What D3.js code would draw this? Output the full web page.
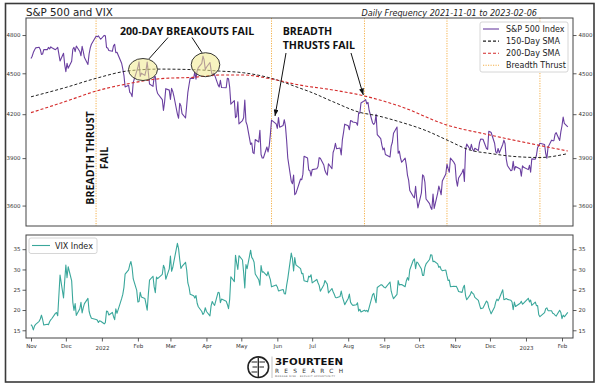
<!DOCTYPE html>
<html><head><meta charset="utf-8">
<script src="https://cdn.jsdelivr.net/npm/d3@7"></script>
<style>body{margin:0;background:#fff}svg{display:block}</style>
</head><body>
<svg id="c" width="600" height="391"></svg>
<script>
// ---------------- DATA ----------------
const months = ["2021-11","2021-12","2022-01","2022-02","2022-03","2022-04","2022-05","2022-06","2022-07","2022-08","2022-09","2022-10","2022-11","2022-12","2023-01","2023-02"];
const days = [
 [1,2,3,4,5,8,9,10,11,12,15,16,17,18,19,22,23,24,26,29,30],
 [1,2,3,6,7,8,9,10,13,14,15,16,17,20,21,22,23,27,28,29,30,31],
 [3,4,5,6,7,10,11,12,13,14,18,19,20,21,24,25,26,27,28,31],
 [1,2,3,4,7,8,9,10,11,14,15,16,17,18,22,23,24,25,28],
 [1,2,3,4,7,8,9,10,11,14,15,16,17,18,21,22,23,24,25,28,29,30,31],
 [1,4,5,6,7,8,11,12,13,14,18,19,20,21,22,25,26,27,28,29],
 [2,3,4,5,6,9,10,11,12,13,16,17,18,19,20,23,24,25,26,27,31],
 [1,2,3,6,7,8,9,10,13,14,15,16,17,21,22,23,24,27,28,29,30],
 [1,5,6,7,8,11,12,13,14,15,18,19,20,21,22,25,26,27,28,29],
 [1,2,3,4,5,8,9,10,11,12,15,16,17,18,19,22,23,24,25,26,29,30,31],
 [1,2,6,7,8,9,12,13,14,15,16,19,20,21,22,23,26,27,28,29,30],
 [3,4,5,6,7,10,11,12,13,14,17,18,19,20,21,24,25,26,27,28,31],
 [1,2,3,4,7,8,9,10,11,14,15,16,17,18,21,22,23,25,28,29,30],
 [1,2,5,6,7,8,9,12,13,14,15,16,19,20,21,22,23,27,28,29,30],
 [3,4,5,6,9,10,11,12,13,17,18,19,20,23,24,25,26,27,30,31],
 [1,2,3,6]
];
const spxValues = [
 [4614,4631,4660,4680,4697,4702,4685,4646,4649,4683,4683,4701,4689,4705,4698,4683,4691,4701,4595,4655,4567],
 [4513,4577,4538,4592,4686,4701,4667,4712,4669,4635,4709,4668,4621,4568,4649,4697,4726,4791,4786,4793,4778,4766],
 [4797,4794,4701,4696,4677,4670,4713,4726,4659,4663,4577,4533,4483,4398,4410,4357,4350,4326,4432,4516],
 [4546,4589,4477,4501,4484,4522,4587,4504,4419,4402,4472,4475,4380,4349,4305,4226,4289,4385,4374],
 [4306,4387,4364,4329,4201,4171,4278,4260,4204,4173,4262,4358,4412,4463,4461,4512,4456,4520,4543,4576,4632,4602,4530],
 [4546,4583,4526,4481,4501,4488,4413,4397,4447,4393,4392,4463,4459,4394,4272,4297,4176,4184,4288,4132],
 [4155,4175,4301,4147,4123,3991,4001,3936,3930,4024,4008,4088,3924,3901,3901,3974,3941,3979,4058,4158,4132],
 [4101,4177,4109,4121,4161,4116,4018,3901,3750,3735,3790,3667,3675,3765,3760,3796,3912,3901,3822,3819,3785],
 [3825,3831,3845,3903,3899,3855,3819,3802,3790,3863,3831,3937,3960,3999,3962,3967,3921,4024,4073,4130],
 [4119,4091,4155,4152,4145,4140,4122,4210,4207,4280,4297,4305,4274,4284,4228,4138,4128,4141,4199,4058,4031,3986,3955],
 [3967,3924,3908,3980,4006,4067,4110,3932,3946,3901,3873,3900,3856,3790,3758,3693,3655,3647,3719,3640,3586],
 [3678,3791,3783,3745,3640,3612,3589,3577,3670,3583,3677,3720,3695,3666,3753,3797,3860,3831,3808,3901,3872],
 [3856,3760,3720,3771,3807,3828,3749,3956,3993,3957,3992,3959,3947,3965,3950,4003,4027,4026,3964,3958,4080],
 [4077,4072,3999,3941,3933,3964,3934,3991,4020,3996,3896,3852,3818,3822,3879,3822,3845,3829,3783,3849,3840],
 [3825,3853,3808,3895,3893,3919,3970,3983,3999,3991,3929,3899,3973,4020,4017,4016,4060,4071,4018,4077],
 [4119,4180,4136,4111]
];
const vixValues = [
 [16.41,16.03,15.10,16.03,16.48,17.22,17.78,18.73,17.66,16.29,16.49,16.37,17.11,17.59,17.91,19.17,19.38,18.58,28.62,22.96,27.19],
 [31.12,27.95,30.67,27.18,21.89,19.90,21.58,18.69,20.31,21.89,19.29,20.57,21.57,22.87,19.70,18.63,17.96,17.68,17.54,16.95,17.33,17.22],
 [16.60,16.91,19.73,19.61,18.76,19.40,18.41,17.62,20.31,19.19,22.79,23.85,25.59,28.85,29.90,31.16,31.96,30.49,27.66,24.83],
 [21.96,22.09,24.35,23.22,22.86,21.44,19.96,23.91,27.36,28.33,25.70,24.29,28.11,27.75,28.81,31.02,30.32,27.59,30.15],
 [33.32,29.57,30.48,31.98,36.45,35.13,32.45,30.23,30.75,31.77,29.83,26.67,25.67,23.87,23.53,22.94,23.57,21.67,20.81,19.63,18.90,19.33,20.56],
 [19.63,18.57,21.03,22.10,21.55,21.16,24.37,24.26,21.82,22.70,22.17,21.37,20.32,22.68,28.21,27.02,33.52,31.60,29.99,33.40],
 [32.34,29.25,25.42,31.20,30.19,34.75,32.99,32.56,31.77,28.87,27.47,26.10,30.96,29.35,29.43,28.48,29.45,28.37,27.50,25.72,26.19],
 [25.69,24.72,24.79,25.07,24.02,23.96,26.09,27.75,34.02,32.69,29.62,32.95,31.13,30.19,28.95,29.05,27.23,26.95,28.36,28.16,28.71],
 [26.70,27.54,26.73,26.08,24.64,26.17,27.29,26.82,26.40,24.23,25.30,24.50,23.88,23.11,23.03,23.36,24.69,23.24,22.33,21.33],
 [22.84,23.93,21.95,21.44,21.15,21.29,21.77,19.74,20.20,19.53,19.95,19.69,19.90,19.56,20.60,23.80,24.11,22.82,21.78,25.56,26.21,26.21,25.87],
 [25.56,25.47,26.91,24.64,23.61,22.79,23.87,27.27,26.16,26.27,26.30,25.76,27.16,27.99,27.35,29.92,32.26,32.60,30.18,31.84,31.62],
 [30.10,28.55,28.55,30.52,31.36,32.45,33.63,33.57,31.94,32.02,31.37,30.50,30.76,29.98,29.69,29.85,28.46,27.28,27.39,25.75,25.88],
 [25.81,25.86,25.30,24.55,24.35,25.54,26.09,23.53,22.52,23.73,24.54,24.11,23.93,23.12,22.36,21.31,20.35,20.50,22.21,21.89,20.58],
 [19.84,19.06,20.75,22.01,22.68,22.29,22.83,25.00,22.55,22.68,22.83,22.62,22.42,21.97,20.07,21.97,20.87,21.65,22.14,21.44,21.67],
 [22.90,22.01,22.46,21.13,21.97,21.07,21.09,18.83,18.35,19.36,20.34,20.52,19.85,19.81,19.20,19.08,18.73,18.51,19.94,19.40],
 [17.87,18.73,18.33,19.43]
];
const sma150Dates = ["2021-11-01","2021-12-01","2021-12-27","2022-01-25","2022-02-20","2022-03-20","2022-04-12","2022-05-03","2022-05-27","2022-06-20","2022-06-29","2022-07-19","2022-08-11","2022-08-26","2022-09-14","2022-10-08","2022-10-25","2022-11-14","2022-12-01","2022-12-20","2023-01-13","2023-02-06"];
const sma150Values = [4325,4394,4462,4520,4532,4528,4517,4504,4462,4390,4362,4289,4213,4189,4147,4082,4021,3953,3931,3912,3904,3930];
const sma200Dates = ["2021-11-01","2021-12-01","2021-12-27","2022-01-25","2022-02-24","2022-03-20","2022-04-12","2022-05-03","2022-05-27","2022-06-20","2022-07-19","2022-08-14","2022-09-14","2022-10-25","2022-12-01","2023-01-13","2023-02-06"];
const sma200Values = [4211,4292,4367,4424,4462,4469,4487,4487,4457,4412,4375,4333,4258,4124,4055,3984,3947];
const thrustDates = ["2021-12-27","2022-05-27","2022-08-15","2022-10-25","2023-01-13"];
const spxTicks = [3600,3900,4200,4500,4800];
const vixTicks = [15,20,25,30,35];
const xTickDates = ["2021-11-01","2021-12-01","2022-01-01","2022-02-01","2022-03-01","2022-04-01","2022-05-01","2022-06-01","2022-07-01","2022-08-01","2022-09-01","2022-10-01","2022-11-01","2022-12-01","2023-01-01","2023-02-01"];
const xTickLabels = ["Nov","Dec","2022","Feb","Mar","Apr","May","Jun","Jul","Aug","Sep","Oct","Nov","Dec","2023","Feb"];

// ---------------- BUILD ----------------
const parse = d3.utcParse("%Y-%m-%d");
const spx = [], vix = [];
months.forEach((m,i)=>{
  if (days[i].length!==spxValues[i].length || days[i].length!==vixValues[i].length) throw new Error("length mismatch "+m+" "+days[i].length+" "+spxValues[i].length+" "+vixValues[i].length);
  days[i].forEach((d,j)=>{
    const dt = parse(m+"-"+String(d).padStart(2,"0"));
    spx.push({date:dt, v:spxValues[i][j]});
    vix.push({date:dt, v:vixValues[i][j]});
  });
});
const sma150 = sma150Dates.map((d,i)=>({date:parse(d), v:sma150Values[i]}));
const sma200 = sma200Dates.map((d,i)=>({date:parse(d), v:sma200Values[i]}));

const L = 26, R = 573, T1 = 18, B1 = 226, T2 = 235, B2 = 338;
const x = d3.scaleUtc().domain([new Date(Date.UTC(2021,9,27,16,43)), new Date(Date.UTC(2023,1,10,11,12))]).range([L,R]);
const y1 = d3.scaleLog().domain([3478,4940]).range([B1,T1]);
const y2 = d3.scaleLinear().domain([13.1,38.5]).range([B2,T2]);

const svg = d3.select("#c");
const FONT = "DejaVu Sans, sans-serif";
const BOLD = "'Open Sans', 'DejaVu Sans', sans-serif";

// outer frame
svg.append("rect").attr("x",0).attr("y",0).attr("width",600).attr("height",391).attr("fill","#fff");
svg.append("rect").attr("x",5.5).attr("y",3.5).attr("width",588.5).attr("height",378.5)
  .attr("fill","none").attr("stroke","#3a3a3a").attr("stroke-width",1.6);

const defs = svg.append("defs");
defs.append("clipPath").attr("id","clip1").append("rect").attr("x",L).attr("y",T1).attr("width",R-L).attr("height",B1-T1);
defs.append("clipPath").attr("id","clip2").append("rect").attr("x",L).attr("y",T2).attr("width",R-L).attr("height",B2-T2);
defs.append("marker").attr("id","arrow").attr("viewBox","0 0 8 6").attr("refX",8).attr("refY",3)
  .attr("markerWidth",6.5).attr("markerHeight",5).attr("markerUnits","userSpaceOnUse").attr("orient","auto")
  .append("path").attr("d","M0,0L8,3L0,6z").attr("fill","#111");

// titles
svg.append("text").attr("x",26).attr("y",16.3).attr("font-family",FONT).attr("font-size",10.3).attr("fill","#222").text("S&P 500 and VIX");
svg.append("text").attr("x",537).attr("y",15.8).attr("text-anchor","end").attr("font-family",FONT).attr("font-style","italic").attr("font-size",8.1).attr("fill","#222")
  .text("Daily Frequency 2021-11-01 to 2023-02-06");

// ---- top panel ----
const g1 = svg.append("g");
const p1 = g1.append("g").attr("clip-path","url(#clip1)");
thrustDates.forEach(d=>{
  p1.append("line").attr("x1",x(parse(d))).attr("x2",x(parse(d))).attr("y1",T1).attr("y2",B1)
    .attr("stroke","#f4b04a").attr("stroke-width",1).attr("stroke-dasharray","1.2,1.3");
});
const line1 = d3.line().x(d=>x(d.date)).y(d=>y1(d.v));
p1.append("path").datum(spx).attr("d",line1).attr("fill","none").attr("stroke","#6a3fa0").attr("stroke-width",1.1).attr("stroke-linejoin","round");
const smooth = d3.line().x(d=>x(d.date)).y(d=>y1(d.v)).curve(d3.curveMonotoneX);
p1.append("path").datum(sma150).attr("d",smooth).attr("fill","none").attr("stroke","#222").attr("stroke-width",1).attr("stroke-dasharray","3,2");
p1.append("path").datum(sma200).attr("d",smooth).attr("fill","none").attr("stroke","#d42a2a").attr("stroke-width",1.1).attr("stroke-dasharray","3,2");

// axes top
const axL1 = d3.axisLeft(y1).tickValues(spxTicks).tickFormat(d3.format("d")).tickSize(3.5).tickPadding(2);
const axR1 = d3.axisRight(y1).tickValues(spxTicks).tickFormat(d3.format("d")).tickSize(3.5).tickPadding(2);
function styleAxis(g){
  g.select(".domain").remove();
  g.selectAll("line").attr("stroke","#333").attr("stroke-width",0.8);
  g.selectAll("text").attr("font-family",FONT).attr("font-size",5.5).attr("fill","#333");
}
g1.append("g").attr("transform",`translate(${L},0)`).call(axL1).call(styleAxis);
g1.append("g").attr("transform",`translate(${R},0)`).call(axR1).call(styleAxis);
g1.append("rect").attr("x",L).attr("y",T1).attr("width",R-L).attr("height",B1-T1).attr("fill","none").attr("stroke","#444").attr("stroke-width",1);

// ellipses
[[143,69.5,14.5,11],[205.5,64.7,14.3,12]].forEach(e=>{
  g1.append("ellipse").attr("cx",e[0]).attr("cy",e[1]).attr("rx",e[2]).attr("ry",e[3])
    .attr("fill","#f1ea8c").attr("fill-opacity",0.55).attr("stroke","#222").attr("stroke-width",0.9);
});

// annotations
const ann = g1.append("g").attr("font-family",BOLD).attr("font-weight",700).attr("fill","#111").attr("font-size",10.6);
ann.append("text").attr("x",120).attr("y",34.5).text("200-DAY BREAKOUTS FAIL");
ann.append("text").attr("x",282.7).attr("y",35).text("BREADTH");
ann.append("text").attr("x",282.7).attr("y",49.3).text("THRUSTS FAIL");
const rot = ann.append("g").attr("transform","translate(0,158) rotate(-90)");
rot.append("text").attr("x",0).attr("y",94.3).attr("text-anchor","middle").text("BREADTH THRUST");
rot.append("text").attr("x",0).attr("y",108.2).attr("text-anchor","middle").text("FAIL");

const arr = g1.append("g").attr("stroke","#111").attr("stroke-width",1);
arr.append("line").attr("x1",168).attr("y1",37.5).attr("x2",149).attr("y2",58.8);
arr.append("line").attr("x1",192).attr("y1",37.5).attr("x2",202).attr("y2",52.8);
arr.append("line").attr("x1",286).attr("y1",53).attr("x2",275).attr("y2",116).attr("marker-end","url(#arrow)");
arr.append("line").attr("x1",351).attr("y1",53).attr("x2",363.3).attr("y2",95).attr("marker-end","url(#arrow)");

// legend top
const lg = g1.append("g");
lg.append("rect").attr("x",480).attr("y",22).attr("width",88).attr("height",50).attr("rx",2)
  .attr("fill","#fff").attr("fill-opacity",0.9).attr("stroke","#ccc").attr("stroke-width",0.8);
const legItems = [
  {label:"S&P 500 Index", color:"#6a3fa0", dash:null},
  {label:"150-Day SMA", color:"#222", dash:"3,2"},
  {label:"200-Day SMA", color:"#d42a2a", dash:"3,2"},
  {label:"Breadth Thrust", color:"#f4b04a", dash:"1.2,1.3"}
];
legItems.forEach((it,i)=>{
  const yy = 29 + i*12.1;
  lg.append("line").attr("x1",483).attr("x2",499).attr("y1",yy).attr("y2",yy)
    .attr("stroke",it.color).attr("stroke-width",1.1).attr("stroke-dasharray",it.dash);
  lg.append("text").attr("x",506).attr("y",yy+3).attr("font-family",FONT).attr("font-size",8).attr("fill","#222").text(it.label);
});

// ---- bottom panel ----
const g2 = svg.append("g");
const p2 = g2.append("g").attr("clip-path","url(#clip2)");
const line2 = d3.line().x(d=>x(d.date)).y(d=>y2(d.v));
p2.append("path").datum(vix).attr("d",line2).attr("fill","none").attr("stroke","#3aa79b").attr("stroke-width",1.1).attr("stroke-linejoin","round");

const axL2 = d3.axisLeft(y2).tickValues(vixTicks).tickSize(3.5).tickPadding(2);
const axR2 = d3.axisRight(y2).tickValues(vixTicks).tickSize(3.5).tickPadding(2);
g2.append("g").attr("transform",`translate(${L},0)`).call(axL2).call(styleAxis);
g2.append("g").attr("transform",`translate(${R},0)`).call(axR2).call(styleAxis);
const axB = d3.axisBottom(x).tickValues(xTickDates.map(parse)).tickFormat((d,i)=>xTickLabels[i]).tickSize(3.5).tickPadding(2.5);
const gb = g2.append("g").attr("transform",`translate(0,${B2})`).call(axB).call(styleAxis);
gb.selectAll("text").attr("dy",(d,i)=>/^\d{4}$/.test(xTickLabels[i]) ? "1.05em" : "0.71em");
g2.append("rect").attr("x",L).attr("y",T2).attr("width",R-L).attr("height",B2-T2).attr("fill","none").attr("stroke","#444").attr("stroke-width",1);

// legend bottom
g2.append("rect").attr("x",29).attr("y",238).attr("width",68).attr("height",15.5).attr("rx",2)
  .attr("fill","#fff").attr("stroke","#ccc").attr("stroke-width",0.8);
g2.append("line").attr("x1",32).attr("x2",50).attr("y1",245.5).attr("y2",245.5).attr("stroke","#3aa79b").attr("stroke-width",1.1);
g2.append("text").attr("x",55).attr("y",248.5).attr("font-family",FONT).attr("font-size",8).attr("fill","#222").text("VIX Index");

// ---- logo ----
const lo = svg.append("g").attr("stroke","#222").attr("fill","none");
lo.append("circle").attr("cx",258.3).attr("cy",367.2).attr("r",10.3).attr("stroke-width",1.6);
lo.append("line").attr("x1",258.3).attr("x2",258.3).attr("y1",357.5).attr("y2",377).attr("stroke-width",1.3);
lo.append("path").attr("d","M251.5,362 H257.3 M252.5,367 H257.3 M251.5,372 H257.3 M259.3,362 H265 M259.3,367 H264").attr("stroke-width",1.2);
svg.append("line").attr("x1",272).attr("x2",272).attr("y1",356.5).attr("y2",378).attr("stroke","#999").attr("stroke-width",0.6);
svg.append("text").attr("x",275).attr("y",364.6).attr("font-family","DejaVu Sans, sans-serif").attr("font-weight",700).attr("font-size",8.3)
  .attr("textLength",68).attr("lengthAdjust","spacingAndGlyphs").attr("fill","#111").text("3FOURTEEN");
svg.append("text").attr("x",275).attr("y",372.6).attr("font-family","DejaVu Sans, sans-serif").attr("font-size",5.8)
  .attr("textLength",68).attr("lengthAdjust","spacing").attr("fill","#333").text("RESEARCH");
svg.append("text").attr("x",275).attr("y",376.8).attr("font-family","DejaVu Sans, sans-serif").attr("font-size",2.4)
  .attr("textLength",60).attr("fill","#555").text("MANAGE RISK · EXPLOIT OPPORTUNITY");
</script>
</body></html>
